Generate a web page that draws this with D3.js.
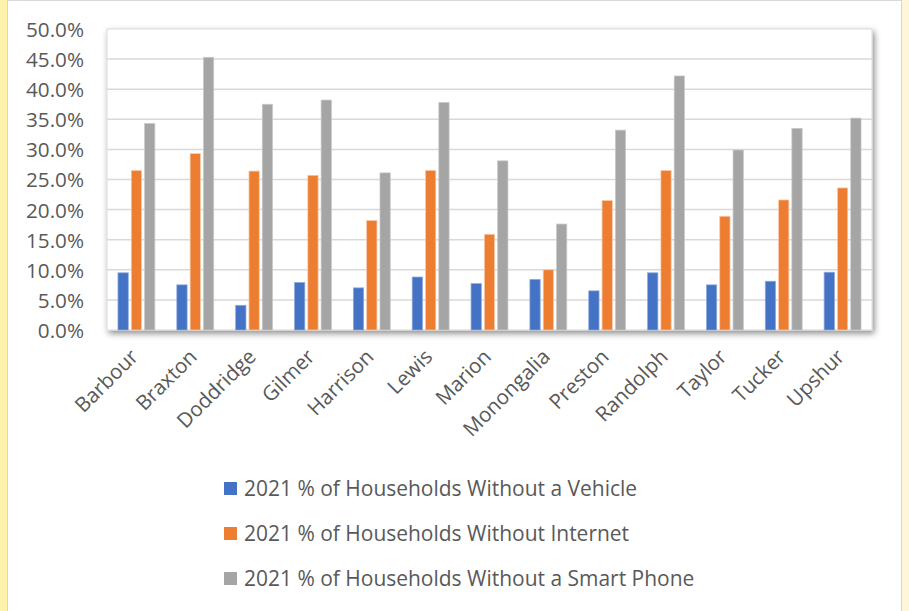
<!DOCTYPE html>
<html><head><meta charset="utf-8">
<script src="https://cdn.jsdelivr.net/npm/d3@7"></script>
<style>
html,body{margin:0;padding:0;background:#fff;}
svg{display:block;}
text{font-family:"Open Sans","Noto Sans",sans-serif;fill:#595959;}
</style></head><body>
<svg id="c" width="909" height="611"></svg>
<script>
const categories = ["Barbour","Braxton","Doddridge","Gilmer","Harrison","Lewis","Marion","Monongalia","Preston","Randolph","Taylor","Tucker","Upshur"];
const seriesNames = ["2021 % of Households Without a Vehicle","2021 % of Households Without Internet","2021 % of Households Without a Smart Phone"];
const vehicle = [9.5,7.5,4.1,7.9,7.0,8.8,7.7,8.4,6.5,9.5,7.5,8.1,9.6];
const internet = [26.5,29.3,26.4,25.7,18.2,26.5,15.9,10.0,21.5,26.5,18.9,21.6,23.6];
const smartPhone = [34.3,45.3,37.5,38.2,26.1,37.8,28.1,17.6,33.2,42.2,29.9,33.5,35.2];
const yTicks = [0,5,10,15,20,25,30,35,40,45,50];
const colors = ["#4472C4","#ED7D31","#A5A5A5"];
const strokes = ["#8EA9DB","#F8CBAD","#C9C9C9"];

const seriesVals = [vehicle, internet, smartPhone];
const svg = d3.select("#c");

// fit a font size so that a sample string has the wanted width
function fitSize(sample, target){
  const t = svg.append("text").style("font-size","20px").text(sample);
  const w = t.node().getComputedTextLength();
  t.remove();
  return (20*target/w).toFixed(2)+"px";
}
const FS_Y = fitSize("50.0%", 58);
const FS_X = fitSize("Barbour", 79);
const FS_L = fitSize(seriesNames[0], 393);

// frame
svg.append("rect").attr("x",0).attr("y",0).attr("width",8).attr("height",611).attr("fill","#FFF2AB");
svg.append("rect").attr("x",901).attr("y",0).attr("width",8).attr("height",611).attr("fill","#FFF6DA");
svg.append("line").attr("x1",7.5).attr("x2",7.5).attr("y1",0).attr("y2",611).attr("stroke","#D6D6D6").attr("stroke-width",1);
svg.append("line").attr("x1",901.5).attr("x2",901.5).attr("y1",0).attr("y2",611).attr("stroke","#D6D6D6").attr("stroke-width",1);
svg.append("line").attr("x1",8).attr("x2",901).attr("y1",0.5).attr("y2",0.5).attr("stroke","#DADADA").attr("stroke-width",1);

const defs = svg.append("defs");
const f = defs.append("filter").attr("id","sh").attr("x","-10%").attr("y","-10%").attr("width","120%").attr("height","130%");
f.append("feDropShadow").attr("dx",2).attr("dy",3).attr("stdDeviation",3).attr("flood-color","#000").attr("flood-opacity",0.45);

const L = 107, R = 872, T = 29, B = 330;
const y = d3.scaleLinear().domain([0,50]).range([B,T]);
const x0 = d3.scaleBand().domain(categories).range([L,R]).paddingInner(0.373).paddingOuter(0.1865);
const x1 = d3.scaleBand().domain(d3.range(3)).range([0,x0.bandwidth()]).paddingInner(0.226).paddingOuter(0);

svg.append("rect").attr("x",L).attr("y",T).attr("width",R-L).attr("height",B-T)
  .attr("fill","#fff").attr("stroke","#D9D9D9").attr("stroke-width",1).attr("filter","url(#sh)");

// gridlines
svg.append("g").selectAll("line").data(yTicks.filter(d=>d>0 && d<50)).join("line")
  .attr("x1",L).attr("x2",R).attr("y1",d=>y(d)).attr("y2",d=>y(d))
  .attr("stroke","#D9D9D9").attr("stroke-width",1.5);

// y axis labels
const yAxis = d3.axisLeft(y).tickValues(yTicks).tickFormat(d=>d.toFixed(1)+"%").tickSize(0).tickPadding(0);
const ya = svg.append("g").attr("transform",`translate(84,0)`).call(yAxis);
ya.select(".domain").remove();
ya.selectAll("text").style("font-size",FS_Y).attr("fill","#595959").attr("dy","0.36em");

// bars
const groups = svg.append("g").selectAll("g").data(categories).join("g")
  .attr("transform",d=>`translate(${x0(d)},0)`);
groups.selectAll("rect").data((d,i)=>seriesVals.map((s,k)=>({k,v:s[i]}))).join("rect")
  .attr("x",d=>x1(d.k)).attr("width",x1.bandwidth())
  .attr("y",d=>y(d.v)).attr("height",d=>B-y(d.v))
  .attr("fill",d=>colors[d.k]).attr("stroke",d=>strokes[d.k]).attr("stroke-width",0.75);

// x labels
const xAxis = d3.axisBottom(x0).tickSize(0).tickPadding(0);
const xa = svg.append("g").attr("transform",`translate(0,${B})`).call(xAxis);
xa.select(".domain").remove();
xa.selectAll("text").style("font-size",FS_X).attr("fill","#595959")
  .attr("text-anchor","end").attr("dy",0).attr("y",0)
  .attr("transform","translate(3,28) rotate(-45)");

// legend
const lg = svg.append("g").selectAll("g").data(seriesNames).join("g")
  .attr("transform",(d,i)=>`translate(224,${489+i*45})`);
lg.append("rect").attr("x",0).attr("y",-7).attr("width",13).attr("height",13).attr("fill",(d,i)=>colors[i]);
lg.append("text").attr("x",20).attr("y",0).attr("dy","0.35em").style("font-size",FS_L).text(d=>d);
</script>
</body></html>
